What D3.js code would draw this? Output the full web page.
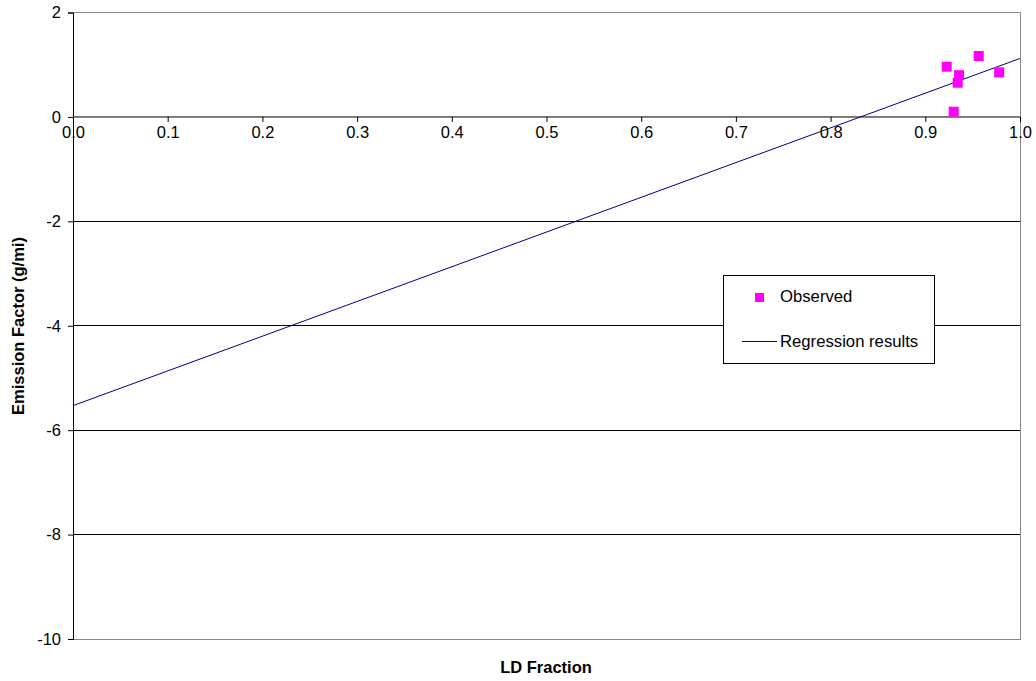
<!DOCTYPE html>
<html><head><meta charset="utf-8">
<script src="https://cdn.jsdelivr.net/npm/d3@7"></script>
<style>body{margin:0;background:#fff;}svg{display:block;font-family:"Liberation Sans",Arial,sans-serif;}</style>
</head><body>
<svg id="c" width="1036" height="681"></svg>
<script>
const obsX = [0.9226, 0.9564, 0.9356, 0.9342, 0.978, 0.930];
const obsY = [0.962, 1.167, 0.80, 0.655, 0.854, 0.10];
const regX = [0, 1];
const regY = [-5.53, 1.12];
const xTicks = [0,0.1,0.2,0.3,0.4,0.5,0.6,0.7,0.8,0.9,1.0];
const yTicks = [2,0,-2,-4,-6,-8,-10];

const FF = "Liberation Sans, Arial, sans-serif";
const svg = d3.select("#c");
const L=73,R=1020,T=12.5,B=639;
const x = d3.scaleLinear().domain([0,1]).range([L,R]);
const y = d3.scaleLinear().domain([-10,2]).range([B,T]);

// gridlines
svg.append("g").selectAll("line").data(yTicks.filter(d=>d!==0 && d!==-10 && d!==2)).join("line")
  .attr("x1",L).attr("x2",R).attr("y1",d=>y(d)).attr("y2",d=>y(d)).attr("stroke","#000").attr("stroke-width",1).attr("shape-rendering","crispEdges");
// border
svg.append("rect").attr("x",L).attr("y",y(2)).attr("width",R-L).attr("height",B-y(2))
  .attr("fill","none").attr("stroke","#888").attr("stroke-width",1).attr("shape-rendering","crispEdges");
// zero line
svg.append("line").attr("x1",L).attr("x2",R).attr("y1",y(0)).attr("y2",y(0)).attr("stroke","#777").attr("shape-rendering","crispEdges");

// y axis
const yAxis = d3.axisLeft(y).tickValues(yTicks).tickSize(5).tickPadding(7).tickFormat(d=>String(d));
const gy = svg.append("g").attr("transform",`translate(${L},0)`).call(yAxis);
gy.attr("font-size",16.5).attr("font-family",FF);
gy.select(".domain").attr("stroke","#000");
gy.selectAll(".tick line").attr("stroke","#000");
gy.selectAll("text").attr("fill","#000");

// x axis at y=0
const xAxis = d3.axisBottom(x).tickValues(xTicks).tickSize(5).tickPadding(4).tickFormat(d3.format(".1f"));
const gx = svg.append("g").attr("transform",`translate(0,${y(0)})`).call(xAxis);
gx.attr("font-size",16.5).attr("font-family",FF);
gx.select(".domain").attr("stroke","#777");
gx.selectAll(".tick line").attr("stroke","#000");
gx.selectAll("text").attr("fill","#000");

// regression line
const line = d3.line().x((d,i)=>x(regX[i])).y((d,i)=>y(regY[i]));
svg.append("path").datum(regX).attr("d",line).attr("fill","none").attr("stroke","#000080").attr("stroke-width",1);

// observed points
svg.append("g").selectAll("rect").data(obsX).join("rect")
  .attr("x",(d,i)=>x(d)-5).attr("y",(d,i)=>y(obsY[i])-5).attr("width",10).attr("height",10).attr("fill","#ff00ff");

// legend
const lg = svg.append("g").attr("font-family",FF).attr("font-size",16.7);
lg.append("rect").attr("x",723.5).attr("y",275.5).attr("width",211).attr("height",88).attr("fill","#fff").attr("stroke","#000");
lg.append("rect").attr("x",755).attr("y",293).attr("width",9).attr("height",9).attr("fill","#ff00ff");
lg.append("text").attr("x",780).attr("y",302).text("Observed");
lg.append("line").attr("x1",742).attr("x2",777).attr("y1",341.5).attr("y2",341.5).attr("stroke","#000080");
lg.append("text").attr("x",780).attr("y",347).text("Regression results");

// titles
svg.append("text").attr("x",546).attr("y",673).attr("text-anchor","middle").attr("font-size",16.5).attr("font-weight","bold").attr("font-family",FF).text("LD Fraction");
svg.append("text").attr("transform","translate(24,326) rotate(-90)").attr("text-anchor","middle").attr("font-size",16.5).attr("font-weight","bold").attr("font-family",FF).text("Emission Factor (g/mi)");
</script>
</body></html>
